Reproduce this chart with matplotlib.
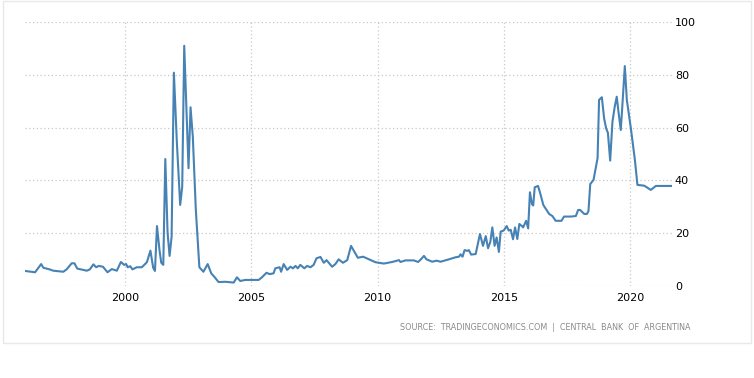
import matplotlib
matplotlib.use("Agg")
import matplotlib.pyplot as plt
from matplotlib.patches import Rectangle

# Argentina interest rate (%); dates as decimal years
dates = [
    1996.03, 1996.43, 1996.67, 1996.76, 1997.00, 1997.15, 1997.55, 1997.68,
    1997.88, 1997.99, 1998.10, 1998.48, 1998.60, 1998.74, 1998.85, 1998.95,
    1999.12, 1999.30, 1999.47, 1999.67, 1999.83, 1999.96, 2000.04, 2000.10,
    2000.20, 2000.29, 2000.46, 2000.66, 2000.86, 2001.00, 2001.11, 2001.18,
    2001.26, 2001.36, 2001.43, 2001.51, 2001.59, 2001.68, 2001.76, 2001.84,
    2001.93, 2002.05, 2002.18, 2002.26, 2002.34, 2002.51, 2002.59, 2002.68,
    2002.80, 2002.94, 2003.10, 2003.27, 2003.41, 2003.54, 2003.70, 2003.97,
    2004.30, 2004.43, 2004.56, 2004.76, 2005.29, 2005.42, 2005.60, 2005.73,
    2005.88, 2005.95, 2006.12, 2006.18, 2006.28, 2006.42, 2006.55, 2006.65,
    2006.75, 2006.84, 2006.94, 2007.10, 2007.21, 2007.34, 2007.47, 2007.58,
    2007.74, 2007.87, 2007.98, 2008.20, 2008.33, 2008.46, 2008.63, 2008.80,
    2008.95, 2009.08, 2009.22, 2009.43, 2009.66, 2009.92, 2010.25, 2010.58,
    2010.85, 2010.91, 2011.11, 2011.44, 2011.61, 2011.73, 2011.84, 2011.94,
    2012.17, 2012.34, 2012.50, 2012.83, 2013.10, 2013.23, 2013.29, 2013.37,
    2013.45, 2013.55, 2013.62, 2013.71, 2013.89, 2014.06, 2014.18, 2014.29,
    2014.38, 2014.47, 2014.55, 2014.64, 2014.72, 2014.81, 2014.88, 2015.00,
    2015.12, 2015.20, 2015.28, 2015.37, 2015.45, 2015.54, 2015.62, 2015.72,
    2015.77, 2015.89, 2015.97, 2016.04, 2016.12, 2016.17, 2016.23, 2016.36,
    2016.44, 2016.57, 2016.70, 2016.80, 2016.93, 2017.06, 2017.29, 2017.39,
    2017.66, 2017.86, 2017.95, 2018.03, 2018.19, 2018.30, 2018.36, 2018.43,
    2018.56, 2018.72, 2018.78, 2018.89, 2018.98, 2019.06, 2019.13, 2019.22,
    2019.31, 2019.40, 2019.48, 2019.54, 2019.64, 2019.70, 2019.80, 2019.88,
    2020.04, 2020.20, 2020.30, 2020.57, 2020.83, 2021.03, 2021.67,
]
rates = [
    5.7, 5.2, 8.3, 6.9, 6.3, 5.8, 5.4, 6.3,
    8.6, 8.6, 6.6, 5.8, 6.3, 8.2, 7.1, 7.6,
    7.3, 5.2, 6.4, 5.8, 9.1, 8.0, 8.3, 7.1,
    7.5, 6.3, 7.1, 7.1, 9.0, 13.4, 6.9, 5.7,
    22.7, 13.6, 8.8, 8.0, 48.1, 20.2, 11.4, 18.7,
    80.8, 54.0, 30.7, 37.6, 91.0, 44.6, 67.7, 56.6,
    28.8, 7.1, 5.4, 8.3, 4.8, 3.4, 1.5, 1.6,
    1.3, 3.3, 1.9, 2.3, 2.3, 3.3, 5.0, 4.5,
    4.8, 6.7, 7.1, 5.4, 8.3, 6.1, 7.3, 6.7,
    7.6, 6.7, 8.0, 6.7, 7.6, 7.1, 8.0, 10.5,
    11.0, 8.8, 9.8, 7.3, 8.3, 10.1, 8.8, 9.8,
    15.2, 13.0, 10.7, 11.1, 10.1, 9.0, 8.5, 9.1,
    9.8, 9.1, 9.7, 9.7, 9.1, 10.2, 11.4, 10.1,
    9.2, 9.6, 9.2, 10.1, 10.9, 11.1, 12.0, 11.1,
    13.6, 13.3, 13.6, 11.9, 12.1, 19.7, 15.2, 18.9,
    14.3, 16.7, 22.2, 15.2, 18.4, 12.9, 20.6, 21.0,
    22.7, 21.0, 21.3, 17.7, 22.2, 17.8, 23.5, 22.7,
    22.2, 24.7, 21.8, 35.5, 31.0, 30.5, 37.4, 37.9,
    35.4, 30.7, 28.8, 27.3, 26.5, 24.7, 24.7, 26.3,
    26.3, 26.5, 28.8, 28.8, 27.3, 27.3, 28.4, 38.6,
    40.2, 48.4, 70.5, 71.5, 63.5, 59.7, 58.0, 47.5,
    62.2, 67.9, 71.7, 66.7, 59.1, 67.9, 83.3, 70.5,
    59.7, 47.7, 38.3, 38.0, 36.4, 37.9, 37.9,
]

year_ticks = [2000, 2005, 2010, 2015, 2020]
value_ticks = [0, 20, 40, 60, 80, 100]
source_text = "SOURCE:  TRADINGECONOMICS.COM  |  CENTRAL  BANK  OF  ARGENTINA"

W, H = 754, 378
fig = plt.figure(figsize=(W / 100, H / 100), dpi=100)
fig.patch.set_facecolor("white")

# light frame around the chart
fig.patches.append(Rectangle((3 / W, 1 - 343 / H), 748 / W, 342 / H,
                             transform=fig.transFigure, fill=False,
                             edgecolor="#e8e8e8", linewidth=1))

ax = fig.add_axes([25 / W, 1 - 286 / H, 647 / W, 264 / H])
ax.plot(dates, rates, color="#4682b4", linewidth=1.5, solid_joinstyle="round")

ax.set_xlim(1996.03, 2021.67)
ax.set_ylim(0, 100)
ax.set_xticks(year_ticks)
ax.set_xticklabels([str(y) for y in year_ticks])
ax.set_yticks(value_ticks)
ax.yaxis.tick_right()

for s in ax.spines.values():
    s.set_visible(False)

ax.grid(True, color="#c8c8c8", linestyle=(0, (1, 2)), linewidth=0.9)
ax.set_axisbelow(True)
ax.tick_params(axis="both", length=0, labelsize=8, colors="black")
ax.tick_params(axis="x", pad=5)
ax.tick_params(axis="y", pad=2)

fig.text(690 / W, 1 - 328 / H, source_text, ha="right", va="center",
         fontsize=5.8, color="#8a8a8a")

fig.savefig("out.png", dpi=100, facecolor="white")
